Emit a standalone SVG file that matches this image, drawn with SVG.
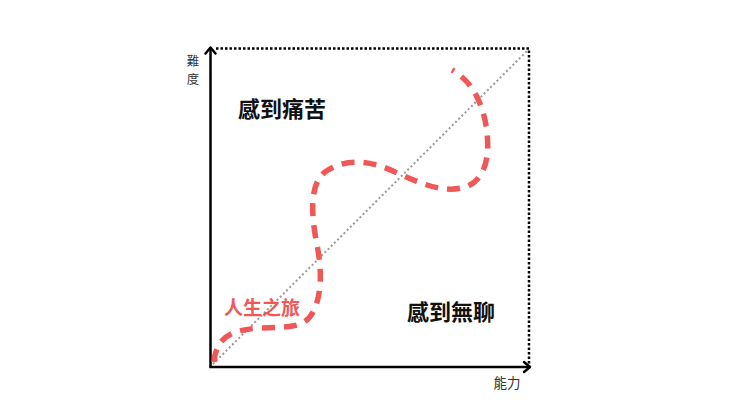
<svg xmlns="http://www.w3.org/2000/svg" width="740" height="416" viewBox="0 0 740 416">
  <defs>
    <style>
      .axis { stroke: #000; stroke-width: 2.5; fill: none; }
      .arrow { stroke: #000; stroke-width: 2.5; fill: none; stroke-linecap: round; stroke-linejoin: round; }
      .border { stroke: #000; stroke-width: 2.5; fill: none; stroke-dasharray: 2.5 2; }
      .diag { stroke: #999; stroke-width: 2; fill: none; stroke-dasharray: 2 2.5; }
      .journey { stroke: #f05757; stroke-width: 5.5; fill: none; stroke-dasharray: 13 9; }
      .big { font-family: "Noto Sans CJK TC", "Noto Sans CJK SC", sans-serif; font-weight: bold; font-size: 22px; fill: #111; text-anchor: middle; }
      .red { font-family: "Noto Sans CJK TC", "Noto Sans CJK SC", sans-serif; font-weight: bold; font-size: 19px; fill: #f05757; text-anchor: middle; }
      .small { font-family: "Noto Sans CJK TC", "Noto Sans CJK SC", sans-serif; font-size: 13.5px; fill: #333; text-anchor: middle; }
      .vert { font-family: "Noto Sans CJK TC", "Noto Sans CJK SC", sans-serif; font-size: 12.3px; fill: #333; text-anchor: middle; }
    </style>
  </defs>
  <rect width="740" height="416" fill="#fff"/>
  <g id="connectors">
    <path class="border" d="M216,48.5 H529 V366"/>
    <path class="diag" d="M213,364 L527,51"/>
    <path class="axis" d="M210.5,367 V49"/>
    <path class="axis" d="M209.3,367 H529"/>
    <path class="arrow" d="M205.5,53.5 L210.5,47.5 L215.5,53.5"/>
    <path class="arrow" d="M524,362 L530,367 L524,372"/>
    <path id="journey-path" class="journey" d="M214,362 C216,338 230,330 260,328 C290,327 305,328 313,312 C322,295 322,270 317,245 C312,220 308,185 325,172 C345,158 370,160 395,172 C420,183 445,195 468,186 C490,176 490,145 485,120 C480,98 470,80 452,70"/>
  </g>
  <g id="label-pain">
    <text class="big" x="282" y="117">感到痛苦</text>
  </g>
  <g id="label-boredom">
    <text class="big" x="451" y="320">感到無聊</text>
  </g>
  <g id="label-journey">
    <text class="red" x="262" y="315">人生之旅</text>
  </g>
  <g id="label-difficulty">
    <text class="vert" x="193" y="66">難</text>
    <text class="vert" x="193" y="84">度</text>
  </g>
  <g id="label-ability">
    <text class="small" x="507" y="388">能力</text>
  </g>
</svg>
